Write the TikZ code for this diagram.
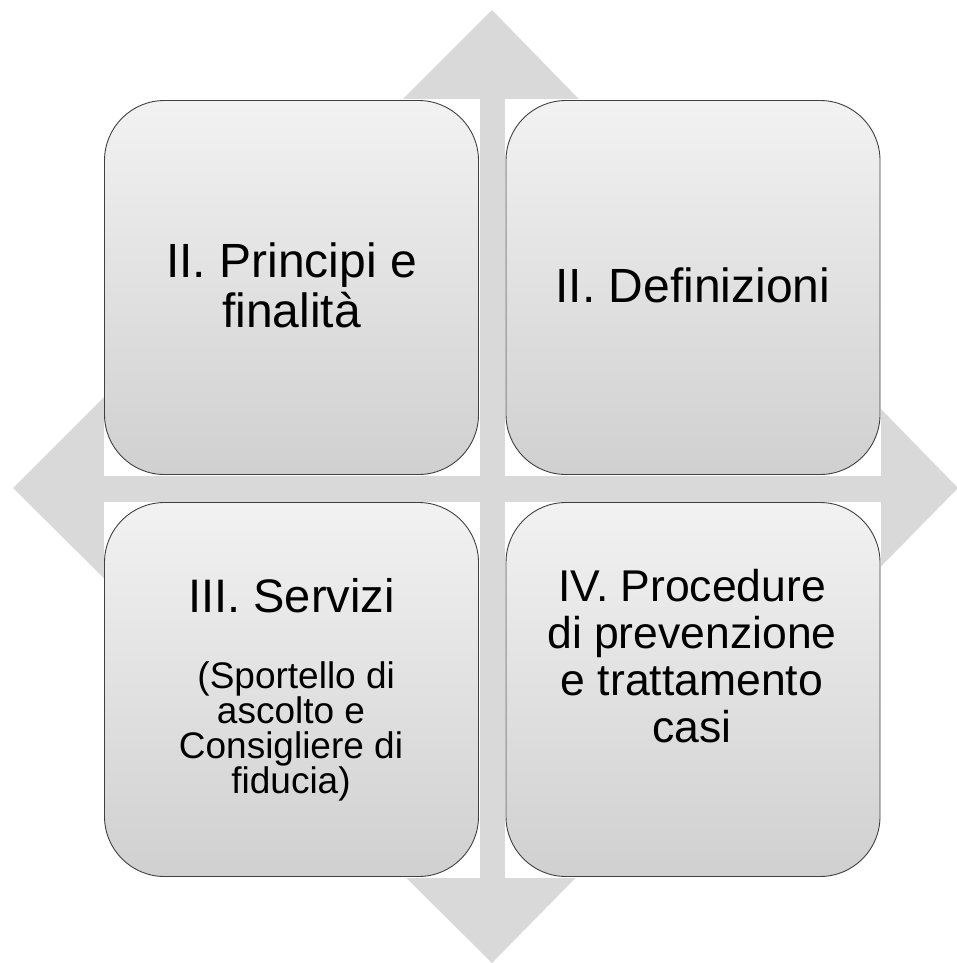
\documentclass[tikz,border=0pt]{standalone}
\usepackage{fontspec}
\setmainfont{Liberation Sans}
\usepackage{xcolor}
\definecolor{diamondgray}{HTML}{D9D9D9}
\definecolor{cardtop}{HTML}{F2F2F2}
\definecolor{cardbottom}{HTML}{D0D0D0}

\begin{document}
\begin{tikzpicture}[x=1pt, y=-1pt,
        pad/.style={rectangle, fill=white, minimum width=376pt, minimum height=376pt, inner sep=0pt},
        card/.style={rectangle, draw=black!75, line width=0.9pt, rounded corners=60pt,
            top color=cardtop, bottom color=cardbottom,
            minimum width=374pt, minimum height=374pt, inner sep=0pt},
        title/.style={align=center, inner sep=0pt, text=black}]
            \useasboundingbox (0,0) rectangle (956,963);
            % big diamond behind the four cards
            \coordinate (dtop) at (492,10);
            \coordinate (dright) at (958,488);
            \coordinate (dbottom) at (492,963);
            \coordinate (dleft) at (13,488);
            \fill[diamondgray] (dtop) -- (dright) -- (dbottom) -- (dleft) -- cycle;
            % cards
            \node[pad](pad1) at (291.5,287.5){};
            \node[pad](pad2) at (693,287.5){};
            \node[pad](pad3) at (291.5,689.5){};
            \node[pad](pad4) at (693,689.5){};
            \node[card](card1) at (pad1.center){};
            \node[card](card2) at (pad2.center){};
            \node[card](card3) at (pad3.center){};
            \node[card](card4) at (pad4.center){};
            % texts
            \node[title, font=\fontsize{48}{50}\selectfont](principi) at (291.5,285){II. Principi e\\finalità};
            \node[title, font=\fontsize{48}{50}\selectfont](definizioni) at (693,285){II. Definizioni};
            \node[title, font=\fontsize{47}{50}\selectfont, anchor=base](servizi) at (291.5,612){III. Servizi};
            \node[title, font=\fontsize{37}{35}\selectfont](sportello) at (291,731){\hspace*{0.28em}(Sportello di\\ascolto e\\Consigliere di\\fiducia)};
            \node[title, font=\fontsize{44.5}{47}\selectfont](procedure) at (692,656.5){IV. Procedure\\di prevenzione\\e trattamento\\casi};
        \end{tikzpicture}
\end{document}
